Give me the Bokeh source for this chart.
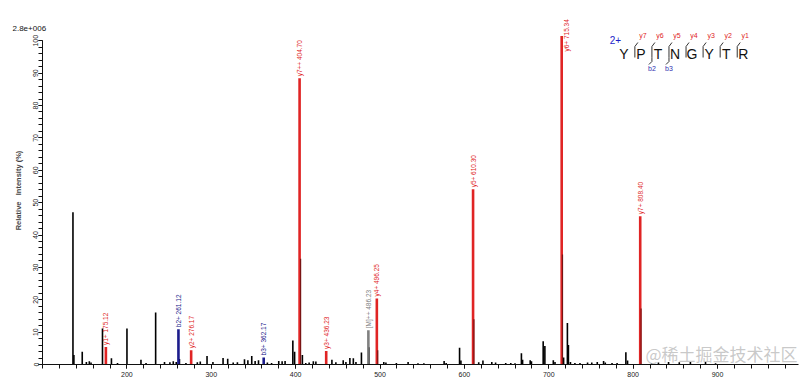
import math
from bokeh.plotting import figure
from bokeh.models import ColumnDataSource, FixedTicker, Label
from bokeh.core.properties import value
from bokeh.embed import file_html
from bokeh.resources import INLINE

# ---------------- data ----------------
scale_label = "2.8e+006"
charge = "2+"
sequence = ["Y", "P", "T", "N", "G", "Y", "T", "R"]
y_ion_names = ["y7", "y6", "y5", "y4", "y3", "y2", "y1"]
b_ion_names = ["b2", "b3"]

ion_labels = ["y1+", "b2+", "y2+", "b3+", "y7++", "y3+", "[M]++", "y4+", "y5+", "y6+", "y7+"]
ion_mz = [175.12, 261.12, 276.17, 362.17, 404.70, 436.23, 486.23, 496.25, 610.30, 715.34, 808.40]
ion_int = [5.4, 10.9, 4.4, 2.2, 88.4, 4.2, 10.6, 20.4, 54.1, 101.5, 45.8]
ion_type = ["y", "b", "y", "b", "y", "y", "M", "y", "y", "y", "y"]

iso_mz = [405.9, 487.2, 497.3, 611.3, 716.3, 809.4]
iso_int = [32.7, 5.3, 4.4, 14.0, 34.0, 17.3]
iso_type = ["y", "M", "y", "y", "y", "y"]

peak_mz = [136.1, 137.2, 147.1, 152.0, 155.5, 157.5, 171.1, 181.7, 188.9, 200.1,
           216.7, 222.7, 234.1, 244.6, 251.0, 255.0, 258.5, 262.3, 270.0, 283.5,
           287.0, 295.0, 302.0, 314.0, 319.5, 326.0, 331.0, 339.4, 343.4, 348.0,
           352.0, 356.0, 366.5, 371.5, 380.0, 384.0, 387.5, 396.7, 398.8, 408.0,
           412.0, 416.0, 421.0, 424.0, 443.0, 447.7, 456.4, 459.6, 464.3, 468.4,
           471.5, 478.0, 504.5, 507.0, 519.4, 533.3, 545.0, 552.0, 576.0, 578.4,
           594.3, 595.9, 617.0, 622.0, 632.5, 637.0, 649.0, 655.0, 660.0, 667.6,
           669.0, 678.0, 679.5, 693.4, 695.4, 705.4, 707.4, 717.6, 722.1, 723.3,
           725.7, 731.0, 737.0, 746.0, 751.0, 757.5, 765.0, 767.0, 775.0, 781.0,
           791.4, 793.4, 822.0, 830.0, 842.0, 854.7, 867.9, 885.8, 897.7]
peak_int = [47.0, 2.9, 3.9, 0.8, 1.0, 0.6, 11.1, 1.9, 0.5, 11.1,
            1.5, 0.5, 16.1, 0.8, 0.7, 1.0, 0.8, 1.7, 0.5, 0.7,
            0.9, 2.6, 0.8, 2.0, 1.8, 0.6, 0.7, 1.6, 1.3, 2.6,
            1.1, 1.3, 0.6, 0.5, 1.1, 1.0, 1.1, 7.4, 3.9, 2.9,
            0.5, 0.6, 1.0, 0.9, 1.5, 0.7, 1.3, 0.8, 2.0, 1.9,
            0.8, 3.7, 0.8, 0.6, 0.5, 0.8, 0.4, 0.4, 1.1, 0.5,
            5.2, 1.2, 0.7, 1.2, 0.8, 0.6, 0.5, 0.5, 0.4, 3.5,
            1.5, 1.3, 1.0, 7.2, 5.7, 1.3, 0.8, 2.2, 12.8, 6.0,
            0.8, 0.5, 0.5, 0.6, 0.6, 0.8, 1.1, 0.6, 0.5, 0.5,
            3.8, 1.2, 0.5, 0.6, 0.8, 0.7, 0.8, 0.8, 0.4]
assert len(peak_mz) == len(peak_int)

x_major = [200, 300, 400, 500, 600, 700, 800, 900]
y_major = [0, 10, 20, 30, 40, 50, 60, 70, 80, 90, 100]

# ---------------- styling / layout ----------------
FONT = "Liberation Sans"
ION_COLOR = {"y": "#e02424", "b": "#1c1c8c", "M": "#808080"}
ISO_COLOR = {"y": "#7a1414", "M": "#555555"}
X0, X1 = 100, 996
Y0, Y1 = 0, 107.5
W, H = 800, 386
BL, BR, BT, BB = 42, 2, 16, 22
KX = (X1 - X0) / (W - BL - BR)      # data units per px (x)
KY = (Y1 - Y0) / (H - BT - BB)      # data units per px (y)

def sx(px):   # canvas px -> data x
    return X0 + (px - BL) * KX

def sy(py):   # canvas px -> data y
    return Y0 + (H - BB - py) * KY

p = figure(width=W, height=H, x_range=(X0, X1), y_range=(Y0, Y1),
           output_backend="svg", toolbar_location=None, tools="",
           min_border_left=BL, min_border_right=BR, min_border_top=BT, min_border_bottom=BB)
p.outline_line_color = None
p.grid.visible = False
p.background_fill_color = "white"

# intensity scale label (as title so that it may sit left of the frame)
p.title.text = scale_label
p.title.align = "left"
p.title.offset = -30
p.title.standoff = -28
p.title.vertical_align = "bottom"
p.title.text_font = FONT
p.title.text_font_size = "8px"
p.title.text_font_style = "normal"
p.title.text_color = "#111111"

# axes
p.xaxis.ticker = FixedTicker(ticks=x_major, minor_ticks=list(range(100, 1000, 20)))
p.yaxis.ticker = FixedTicker(ticks=y_major, minor_ticks=list(range(0, 101, 2)))
p.yaxis.bounds = (0, 100)
for ax in (p.xaxis[0], p.yaxis[0]):
    ax.axis_line_color = "#111111"
    ax.major_tick_line_color = "#111111"
    ax.minor_tick_line_color = "#111111"
    ax.major_tick_out = 4
    ax.major_tick_in = 0
    ax.minor_tick_out = 4
    ax.minor_tick_in = 0
    ax.major_label_text_font = FONT
    ax.major_label_text_font_size = "7px"
    ax.major_label_text_color = "#222222"
p.xaxis.major_label_standoff = 3
p.yaxis.major_label_standoff = 0
p.yaxis.major_label_orientation = "vertical"
p.yaxis.axis_label = "Relative\u00a0\u00a0\u00a0Intensity (%)"
p.yaxis.axis_label_text_font = FONT
p.yaxis.axis_label_text_font_style = "bold"
p.yaxis.axis_label_text_font_size = "7.5px"
p.yaxis.axis_label_standoff = 8

# unassigned peaks
p.segment(x0="mz", y0=0, x1="mz", y1="inten",
          source=ColumnDataSource(dict(mz=peak_mz, inten=peak_int)),
          line_color="black", line_width=1.6, line_cap="butt")

# assigned ions
cap = sy(53)   # labels that would run past the top are set beside their bar
ion_src = ColumnDataSource(dict(
    mz=ion_mz, inten=ion_int,
    ly=[min(v, cap) for v in ion_int],
    xoff=[5 if v > cap else 0 for v in ion_int],
    color=[ION_COLOR[t] for t in ion_type],
    label=[f"{l} {m:.2f}" for l, m in zip(ion_labels, ion_mz)]))
p.segment(x0="mz", y0=0, x1="mz", y1="inten", source=ion_src,
          line_color="color", line_width=2.6, line_cap="butt")

# isotope peaks on top of the ions
p.segment(x0="mz", y0=0, x1="mz", y1="inten",
          source=ColumnDataSource(dict(mz=iso_mz, inten=iso_int,
                                       color=[ISO_COLOR[t] for t in iso_type])),
          line_color="color", line_width=1.2, line_cap="butt")

p.text(x="mz", y="ly", text="label", source=ion_src, angle=math.pi / 2,
       text_align="left", text_baseline="middle", text_color="color",
       text_font=value(FONT), text_font_size="6.5px", y_offset=-2, x_offset="xoff")

# peptide sequence annotation
L0, DX = 623.3, 17.06
let_x = [sx(L0 + DX * i) for i in range(len(sequence))]
p.text(x=let_x, y=[sy(53.3)] * len(sequence), text=sequence,
       text_align="center", text_baseline="middle", text_color="#111111",
       text_font=value(FONT), text_font_size="14px")
p.text(x=[sx(615)], y=[sy(39.5)], text=[charge], text_align="center",
       text_baseline="middle", text_color="#1c1cc8",
       text_font=value(FONT), text_font_size="10px")

b_pos = [int(b[1:]) for b in b_ion_names]
mk_xs, mk_ys = [], []
yl_x, yl_y = [], []
bl_x, bl_y = [], []
for i in range(1, len(sequence)):
    sep = L0 + DX * i - 6
    xs = [sx(sep + 3), sx(sep), sx(sep)]
    ys = [sy(42), sy(46), sy(57)]
    if i in b_pos:
        xs += [sx(sep), sx(sep - 3)]
        ys += [sy(61), sy(64)]
        bl_x.append(sx(sep))
        bl_y.append(sy(68))
    mk_xs.append(xs)
    mk_ys.append(ys)
    yl_x.append(sx(L0 + DX * i + 2))
    yl_y.append(sy(35))
p.multi_line(xs=mk_xs, ys=mk_ys, line_color="#333333", line_width=1)
p.text(x=yl_x, y=yl_y, text=y_ion_names, text_align="center", text_baseline="middle",
       text_color="#e02424", text_font=value(FONT), text_font_size="7px")
p.text(x=bl_x, y=bl_y, text=b_ion_names, text_align="center", text_baseline="middle",
       text_color="#3030b0", text_font=value(FONT), text_font_size="7px")

# watermark
p.add_layout(Label(x=sx(645), y=sy(353), text="@稀土掘金技术社区",
                   text_font="Noto Sans CJK SC", text_font_size="17px",
                   text_color="#c0c0c0", text_alpha=0.85,
                   text_baseline="middle", text_align="left"))

open("out.html", "w").write(file_html(p, INLINE))
